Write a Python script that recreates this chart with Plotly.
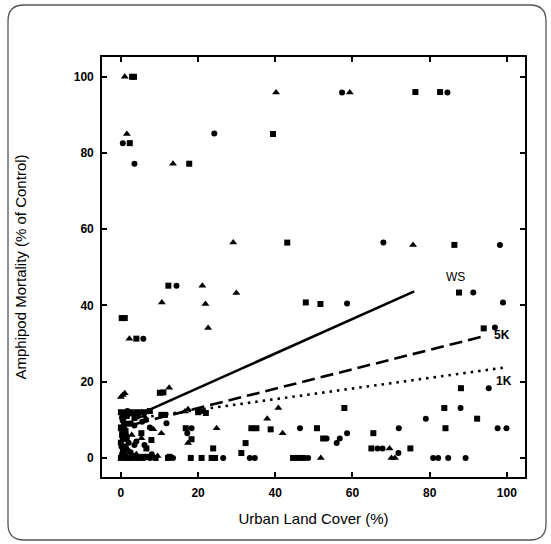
import plotly.graph_objects as go

# ---- data ----
circle_x = [0.5, 3.5, 24.2, 57.3, 84.6, 14.4, 5.8, 68.0, 98.2, 91.3, 58.6, 99.0, 96.9, 95.3, 88.0, 79.0,
            46.4, 17.2, 18.3, 26.5, 33.4, 34.7, 48.5, 53.3, 56.7, 55.9, 58.6, 72.0, 66.5, 67.8, 71.9,
            97.6, 99.9, 80.9, 82.2, 84.8, 89.3, 11.8, 4.0, 13.5, 20.8,
            0.3, 1.0, 0.8, 1.5, 2.0, 3.0, 2.5, 6.0, 7.5, 1.0, 3.5, 4.5, 8.0, 5.5, 0.5, 2.0, 6.5, 7.5,
            1.3, 0.2, 1.2, 4.5, 3.5, 6.1, 1.7, 5.0, 0.0, 0.3]
circle_y = [82.6, 77.2, 85.1, 95.9, 95.9, 45.2, 31.3, 56.5, 55.9, 43.4, 40.5, 40.8, 34.2, 18.3, 13.1, 10.3,
            7.8, 6.5, 7.8, 0.0, 0.0, 0.0, 0.0, 5.1, 5.1, 3.9, 6.5, 7.8, 2.5, 2.5, 1.3,
            7.8, 7.8, 0.0, 0.0, 0.0, 0.0, 9.1, 4.3, 0.0, 12.3,
            1.0, 0.0, 7.0, 9.0, 4.0, 0.0, 1.5, 0.0, 0.0, 10.8, 8.5, 11.0, 1.0, 9.5, 5.0, 11.5, 10.0, 8.0,
            6.0, 3.0, 2.5, 0.0, 3.4, 3.4, 12.3, 12.0, 7.5, 10.5]

square_x = [2.9, 3.4, 2.3, 17.7, 39.4, 76.3, 82.7, 12.3, 0.2, 1.0, 4.0, 43.1, 86.4, 87.6, 47.9, 51.7,
            94.0, 88.1, 57.9, 83.8, 92.3, 16.8, 33.8, 35.1, 38.8, 50.8, 52.4, 65.4, 84.1, 18.3, 32.3,
            23.9, 31.2, 64.9, 75.0, 12.2, 18.1, 20.9, 23.5, 24.4, 44.6, 45.9, 47.2, 20.0, 22.0,
            10.1, 11.0, 10.5, 11.4,
            0.0, 0.5, 0.0, 0.3, 0.0, 0.5, 0.0, 1.0, 2.0, 3.0, 4.0, 1.5, 2.5, 5.3, 7.9, 6.6, 5.0, 9.0, 3.5, 1.2, 0.4,
            1.2, 0.8, 1.5, 0.6, 1.8, 4.0, 6.0, 7.5, 2.5, 5.5, 7.0, 12.6]
square_y = [100.0, 100.0, 82.6, 77.2, 85.0, 96.0, 96.0, 45.2, 36.7, 36.7, 31.3, 56.5, 55.9, 43.4, 40.8, 40.4,
            34.0, 18.3, 13.1, 13.1, 10.3, 7.8, 7.8, 7.8, 7.5, 7.8, 5.1, 6.5, 7.8, 4.9, 3.9,
            2.5, 1.3, 2.5, 2.5, 0.0, 0.0, 0.0, 0.0, 0.0, 0.0, 0.0, 0.0, 12.0, 11.8,
            17.1, 17.2, 11.3, 11.3,
            0.0, 2.0, 4.0, 6.0, 8.0, 10.0, 12.0, 1.0, 0.0, 0.5, 0.0, 5.0, 9.0, 6.5, 4.7, 2.5, 0.0, 0.0, 10.5, 3.0, 11.5,
            7.0, 9.0, 11.0, 1.5, 0.0, 12.0, 12.0, 12.3, 12.0, 0.3, 0.3, 0.3]

triangle_x = [1.0, 1.55, 13.5, 40.2, 59.3, 29.1, 21.1, 29.9, 10.6, 21.9, 22.6, 2.2, 75.7, 40.8, 37.9,
              17.4, 16.6, 24.8, 41.9, 17.4, 51.8, 70.1, 71.0, 69.6, 12.5,
              0.0, 1.0, 0.5, 0.3, 1.5, 2.8, 3.0, 8.4, 8.5, 9.5, 10.5, 2.0, 1.0, 4.0, 6.0, 0.9, 5.3]
triangle_y = [100.0, 85.0, 77.2, 95.9, 95.9, 56.5, 45.2, 43.3, 40.8, 40.4, 34.1, 31.3, 55.9, 13.1, 10.3,
              12.8, 12.2, 7.8, 6.5, 3.9, 0.0, 0.0, 0.0, 2.5, 18.4,
              16.0, 17.0, 16.5, 3.0, 0.5, 6.0, 11.5, 7.5, 0.0, 0.5, 6.5, 2.0, 12.0, 1.0, 11.0, 8.0, 5.2]

# regression lines (end points)
ws_x, ws_y = [4.0, 76.0], [11.1, 43.7]
k5_x, k5_y = [4.0, 94.3], [9.0, 32.0]
k1_x, k1_y = [4.0, 100.0], [10.4, 23.8]

line_labels = ["WS", "5K", "1K"]
label_x = [86.7, 98.8, 99.2]
label_y = [47.6, 32.3, 20.3]

x_ticks = [0, 20, 40, 60, 80, 100]
y_ticks = [0, 20, 40, 60, 80, 100]

fig = go.Figure()
msize = 6
fig.add_trace(go.Scatter(x=circle_x, y=circle_y, mode="markers",
                         marker=dict(symbol="circle", size=msize, color="black"), showlegend=False))
fig.add_trace(go.Scatter(x=square_x, y=square_y, mode="markers",
                         marker=dict(symbol="square", size=msize, color="black"), showlegend=False))
fig.add_trace(go.Scatter(x=triangle_x, y=triangle_y, mode="markers",
                         marker=dict(symbol="triangle-up", size=msize + 1, color="black"), showlegend=False))

fig.add_trace(go.Scatter(x=ws_x, y=ws_y, mode="lines", line=dict(color="black", width=2.6), showlegend=False))
fig.add_trace(go.Scatter(x=k5_x, y=k5_y, mode="lines",
                         line=dict(color="black", width=2.6, dash="13px,6px"), showlegend=False))
fig.add_trace(go.Scatter(x=k1_x, y=k1_y, mode="lines",
                         line=dict(color="black", width=2.6, dash="2.5px,5px"), showlegend=False))

for lab, lx, ly in zip(line_labels, label_x, label_y):
    txt = lab if lab == "WS" else "<b>%s</b>" % lab
    fig.add_annotation(x=lx, y=ly, text=txt, showarrow=False,
                       font=dict(family="Liberation Sans, Arial", size=12, color="black"))

W, H = 551, 544
ml, mr, mt, mb = 102, 26, 57, 67
pw, ph = W - ml - mr, H - mt - mb


def px(xp):
    return (xp - ml) / pw


def py(yp):
    return (H - mb - yp) / ph


# rounded frame around the whole picture
x0, x1, y0, y1, r = 8, 546, 5, 540, 16
path = (f"M {px(x0 + r)},{py(y0)} L {px(x1 - r)},{py(y0)} Q {px(x1)},{py(y0)} {px(x1)},{py(y0 + r)} "
        f"L {px(x1)},{py(y1 - r)} Q {px(x1)},{py(y1)} {px(x1 - r)},{py(y1)} "
        f"L {px(x0 + r)},{py(y1)} Q {px(x0)},{py(y1)} {px(x0)},{py(y1 - r)} "
        f"L {px(x0)},{py(y0 + r)} Q {px(x0)},{py(y0)} {px(x0 + r)},{py(y0)} Z")
fig.add_shape(type="path", path=path, xref="paper", yref="paper",
              line=dict(color="#555555", width=1.3), layer="below")

axis_common = dict(showgrid=False, zeroline=False, showline=True, linecolor="black", linewidth=1.6,
                   mirror="ticks", ticks="inside", ticklen=5, tickwidth=1.5, tickcolor="black",
                   ticklabelstandoff=4,
                   tickfont=dict(family="Liberation Sans, Arial", size=12, color="black", weight="bold"))

fig.update_layout(
    width=W, height=H,
    margin=dict(l=ml, r=mr, t=mt, b=mb),
    paper_bgcolor="white", plot_bgcolor="white",
    xaxis=dict(range=[-4.9, 104.7], tickvals=x_ticks,
               title=dict(text="Urban Land Cover (%)", standoff=14,
                          font=dict(family="Liberation Sans, Arial", size=15, color="black")),
               **axis_common),
    yaxis=dict(range=[-5.0, 105.2], tickvals=y_ticks,
               title=dict(text="Amphipod Mortality (% of Control)", standoff=44,
                          font=dict(family="Liberation Sans, Arial", size=15, color="black")),
               **axis_common),
)

fig.write_html("out.html", config={"displayModeBar": False},
               post_script="document.body.style.margin='0';document.body.style.padding='0';")
